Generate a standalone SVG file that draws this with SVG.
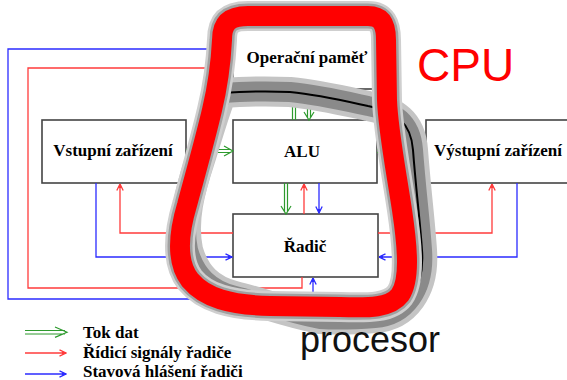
<svg xmlns="http://www.w3.org/2000/svg" width="567" height="380" viewBox="0 0 567 380">
<style>
.box{fill:#fff;stroke:#444;stroke-width:1.6}
.lbl{font-family:"Liberation Serif","Times New Roman",serif;font-weight:bold;font-size:17px;fill:#000}
.r{fill:none;stroke:#ff3b3b;stroke-width:1.3}
.b{fill:none;stroke:#2b2bff;stroke-width:1.3}
.g{fill:none;stroke:#2e9a2e;stroke-width:1.2}
</style>
<defs>
<marker id="ar" viewBox="0 0 8 8" refX="7.5" refY="4" markerWidth="8" markerHeight="8" markerUnits="userSpaceOnUse" orient="auto">
<path d="M1,0.8 L7.5,4 L1,7.2" fill="none" stroke="#ff3b3b" stroke-width="1.3"/><path d="M3.5,2.3 L7.5,4 L3.5,5.7Z" fill="#ff3b3b"/>
</marker>
<marker id="ab" viewBox="0 0 8 8" refX="7.5" refY="4" markerWidth="8" markerHeight="8" markerUnits="userSpaceOnUse" orient="auto">
<path d="M1,0.8 L7.5,4 L1,7.2" fill="none" stroke="#2b2bff" stroke-width="1.3"/><path d="M3.5,2.3 L7.5,4 L3.5,5.7Z" fill="#2b2bff"/>
</marker>
<path id="ploop" d="M222,93 C250,91 270,91 290,92 C320,95 345,101 368,106 C395,111 411,122 413,150 C416,190 420,220 422,250 C425,290 405,316 375,318 C350,320 335,320 320,319 C285,312 260,302 235,296 C210,290 195,275 188,250 C182,220 190,190 200,160 C208,135 215,110 222,93 Z"/>
<path id="cloop" d="M222,40 C222,22 230,16 248,16 L368,16 C382,16 386,25 386,40 L387,100 C388,130 396,170 402,210 C408,250 410,280 400,295 C390,308 370,308 340,307 L270,306 C230,305 205,298 190,280 C176,262 178,235 187,205 C195,175 205,140 212,110 C218,85 221,60 222,40 Z"/>
</defs>

<g id="node-pamet"><rect class="box" x="233" y="26" width="144" height="63"/><text class="lbl" x="307" y="63" text-anchor="middle">Operační paměť</text></g>
<g id="node-vstup"><rect class="box" x="42" y="120" width="144" height="63"/><text class="lbl" x="113" y="156" text-anchor="middle">Vstupní zařízení</text></g>
<g id="node-alu"><rect class="box" x="233" y="120" width="144" height="63"/><text class="lbl" x="302" y="157" text-anchor="middle">ALU</text></g>
<g id="node-vystup"><rect class="box" x="426" y="120" width="146" height="63"/><text class="lbl" x="498" y="156" text-anchor="middle">Výstupní zařízení</text></g>
<g id="node-radic"><rect class="box" x="233" y="214" width="145" height="63"/><text class="lbl" x="305" y="252" text-anchor="middle">Řadič</text></g>

<g id="connectors">
<path class="b" d="M233,49 H8 V299 H313 V278" marker-end="url(#ab)"/>
<path class="b" d="M96,183 V257 H232" marker-end="url(#ab)"/>
<path class="b" d="M517,183 V257 H379" marker-end="url(#ab)"/>
<path class="b" d="M319,183 V213" marker-end="url(#ab)"/>
<path class="r" d="M302,277 V288 H28 V68 H232" marker-end="url(#ar)"/>
<path class="r" d="M233,233 H120 V184" marker-end="url(#ar)"/>
<path class="r" d="M378,233 H492 V184" marker-end="url(#ar)"/>
<path class="r" d="M304,214 V184" marker-end="url(#ar)"/>
<path class="g" d="M186,149.5 H231 M186,152.5 H231 M224,146 L233,151 L224,156"/>
<path class="g" d="M377,149.5 H424 M377,152.5 H424 M417,146 L426,151 L417,156"/>
<path class="g" d="M284.5,183 V212 M287.5,183 V212 M281,206 L286,214 L291,206"/>
<path class="g" d="M292.5,120 V91 M295.5,120 V91 M289,97 L294,89 L299,97"/>
<path class="g" d="M307.5,89 V118 M310.5,89 V118 M304,112 L309,120 L314,112"/>
</g>

<g id="procesor-loop" fill="none" stroke-linejoin="round">
<use href="#ploop" stroke="#c4c4c4" stroke-width="30"/>
<use href="#ploop" stroke="#8a8a8a" stroke-width="20"/>
<use href="#ploop" stroke="#000" stroke-width="2"/>
</g>

<g id="cpu-loop" fill="none" stroke-linejoin="round">
<use href="#cloop" stroke="#cfcfcf" stroke-width="30"/>
<use href="#cloop" stroke="#a0a0a0" stroke-width="25"/>
<use href="#cloop" stroke="#ff0000" stroke-width="20"/>
</g>

<text x="417" y="81" font-family="'Liberation Sans',Arial,sans-serif" font-size="46" fill="#ff0000">CPU</text>
<text x="300" y="352" font-family="'Liberation Sans',Arial,sans-serif" font-size="36" fill="#111">procesor</text>

<g id="legend">
<path class="g" d="M25,330.5 H65 M25,334 H65 M55,327 L67,332.2 L55,337.4"/>
<path class="r" d="M25,353 H66" marker-end="url(#ar)"/>
<path class="b" d="M25,374 H66" marker-end="url(#ab)"/>
<text class="lbl" x="83" y="338">Tok dat</text>
<text class="lbl" x="83" y="358">Řídicí signály řadiče</text>
<text class="lbl" x="83" y="377">Stavová hlášení řadiči</text>
</g>
</svg>
